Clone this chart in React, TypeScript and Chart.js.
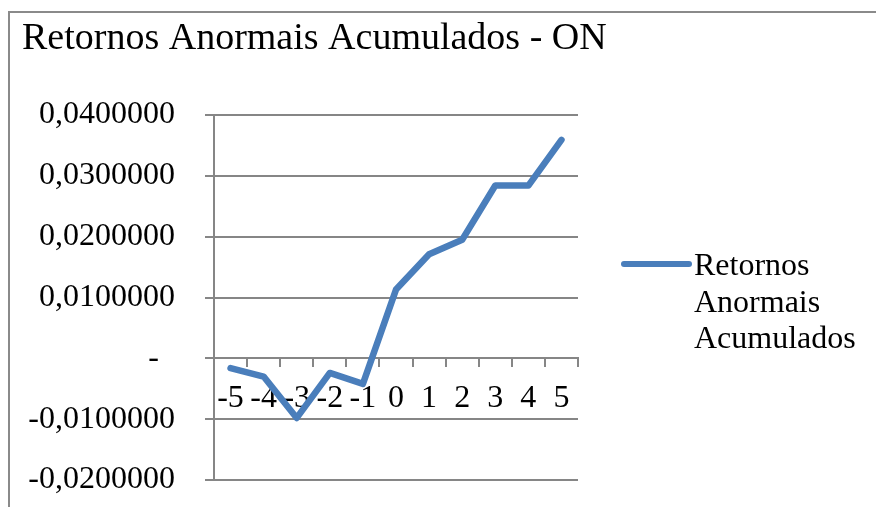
import React, { useEffect, useRef } from "react";
import { Chart, registerables } from "chart.js";

Chart.register(...registerables);

const TITLE = "Retornos Anormais Acumulados - ON";
const SERIES_LABEL = "Retornos Anormais Acumulados";
const LEGEND_LINES = ["Retornos", "Anormais", "Acumulados"];
const CATEGORIES = ["-5", "-4", "-3", "-2", "-1", "0", "1", "2", "3", "4", "5"];
const VALUES = [-0.0016, -0.003, -0.0098, -0.0024, -0.0042, 0.0113, 0.0171, 0.0195, 0.0284, 0.0284, 0.0359];
const Y_MIN = -0.02;
const Y_MAX = 0.04;
const Y_STEP = 0.01;

const FONT = "'Liberation Serif', 'Times New Roman', serif";
const LINE_COLOR = "#4A7EBB";
const GRID_COLOR = "#868686";

const framePlugin = {
  id: "frame",
  beforeDraw(chart: any) {
    const ctx = chart.ctx;
    ctx.save();
    ctx.fillStyle = "#ffffff";
    ctx.fillRect(0, 0, chart.width, chart.height);
    ctx.strokeStyle = "#8a8a8a";
    ctx.lineWidth = 2;
    ctx.beginPath();
    ctx.moveTo(9, chart.height + 5);
    ctx.lineTo(9, 12);
    ctx.lineTo(chart.width + 5, 12);
    ctx.stroke();
    ctx.fillStyle = "#000";
    ctx.font = `38px ${FONT}`;
    ctx.textBaseline = "alphabetic";
    ctx.textAlign = "left";
    ctx.fillText(TITLE, 22, 49);
    ctx.restore();
  },
};

const legendPlugin = {
  id: "customLegend",
  afterDraw(chart: any) {
    const ctx = chart.ctx;
    const ds = chart.data.datasets[0];
    ctx.save();
    ctx.strokeStyle = ds.borderColor;
    ctx.lineWidth = 6;
    ctx.lineCap = "round";
    ctx.beginPath();
    ctx.moveTo(624, 264);
    ctx.lineTo(689, 264);
    ctx.stroke();
    ctx.fillStyle = "#000";
    ctx.font = `32px ${FONT}`;
    ctx.textBaseline = "alphabetic";
    ctx.textAlign = "left";
    LEGEND_LINES.forEach((t, i) => ctx.fillText(t, 694, 275 + i * 36.5));
    ctx.restore();
  },
};

export default function App() {
  const ref = useRef<HTMLCanvasElement>(null);
  useEffect(() => {
    document.body.style.margin = "0";
    const chart = new Chart(ref.current as HTMLCanvasElement, {
      type: "line",
      data: {
        labels: CATEGORIES,
        datasets: [
          {
            label: SERIES_LABEL,
            data: VALUES,
            borderColor: LINE_COLOR,
            backgroundColor: LINE_COLOR,
            borderWidth: 6.5,
            pointRadius: 0,
            tension: 0,
            borderCapStyle: "round",
            borderJoinStyle: "round",
          },
        ],
      },
      options: {
        animation: false,
        responsive: false,
        maintainAspectRatio: false,
        layout: { padding: { top: 115, left: 22, right: 298, bottom: 27 } },
        plugins: {
          legend: { display: false },
          tooltip: { enabled: false },
          title: { display: false },
        },
        scales: {
          x: {
            type: "category",
            position: { y: 0 } as any,
            offset: true,
            afterFit(scale: any) {
              scale.height = 0;
            },
            grid: {
              display: true,
              drawOnChartArea: false,
              drawTicks: true,
              offset: true,
              tickLength: 8,
              color: GRID_COLOR,
              lineWidth: 2,
            },
            border: { display: true, color: GRID_COLOR, width: 2 },
            ticks: {
              color: "#000",
              font: { family: FONT, size: 32 },
              maxRotation: 0,
              minRotation: 0,
              autoSkip: false,
              padding: 13,
            },
          },
          y: {
            type: "linear",
            min: Y_MIN,
            max: Y_MAX,
            afterFit(scale: any) {
              scale.width = 192;
              scale.paddingTop = 20;
              scale.paddingBottom = 20;
            },
            grid: {
              color: GRID_COLOR,
              lineWidth: 2,
              tickLength: 9,
              drawTicks: true,
            },
            border: { display: true, color: GRID_COLOR, width: 2 },
            ticks: {
              stepSize: Y_STEP,
              color: "#000",
              font: { family: FONT, size: 32 },
              padding: 30,
              callback: (v: any) => {
                const n = Number(v);
                if (Math.abs(n) < 1e-12) return "-  ";
                return n.toFixed(7).replace(".", ",");
              },
            },
          },
        },
      },
      plugins: [framePlugin, legendPlugin],
    });
    return () => chart.destroy();
  }, []);
  return (
    <div style={{ width: 876, height: 507 }}>
      <canvas ref={ref} width={876} height={507} style={{ display: "block" }} />
    </div>
  );
}
